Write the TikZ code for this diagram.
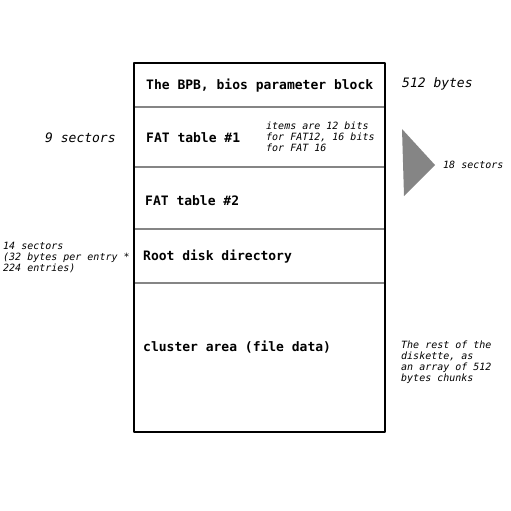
\documentclass[tikz,border=0pt]{standalone}
\usepackage{fontspec}
\setmonofont{DejaVu Sans Mono}
\definecolor{midgray}{HTML}{858585}
\begin{document}
\begin{tikzpicture}[x=1pt,y=-1pt,line join=round]
                \def\xl{134}\def\xr{385}
                \tikzset{lbl/.style={font=\ttfamily\bfseries\fontsize{13}{15}\selectfont,anchor=base west,inner sep=0pt},
                    note/.style={font=\ttfamily\itshape\fontsize{13}{15}\selectfont,anchor=base west,inner sep=0pt},
                    small/.style={font=\ttfamily\itshape\fontsize{10}{11}\selectfont,anchor=north west,inner sep=0pt,align=left},
                    sep/.style={draw=midgray,line width=2.5pt}}
                \useasboundingbox (0,0) rectangle (511,511);
                % the layout of the diskette
                \foreach \y in {107,167,229,283}{
                    \draw[sep] (\xl,\y)--(\xr,\y);	}
                \draw[line width=1.5pt] (\xl,63) rectangle (\xr,432);
                \fill[midgray] (402,129)--(435,165)--(404,196)--cycle;
                \path
                (146,89)node[lbl](bpb){The BPB, bios parameter block}
                (402,88)node[note](bytes){512 bytes}
                (45,142)node[note](nine){9 sectors}
                (146,142)node[lbl](fat1){FAT table \#1}
                (266,122)node[small](items){items are 12 bits\\for FAT12, 16 bits\\for FAT 16}
                (443,168)node[small,anchor=base west](eighteen){18 sectors}
                (145,205)node[lbl](fat2){FAT table \#2}
                (3,242)node[small](fourteen){14 sectors\\(32 bytes per entry *\\224 entries)}
                (143,260)node[lbl](root){Root disk directory}
                (143,351)node[lbl](cluster){cluster area (file data)}
                (401,341)node[small](rest){The rest of the\\diskette, as\\an array of 512\\bytes chunks}
                ;
            \end{tikzpicture}
\end{document}
